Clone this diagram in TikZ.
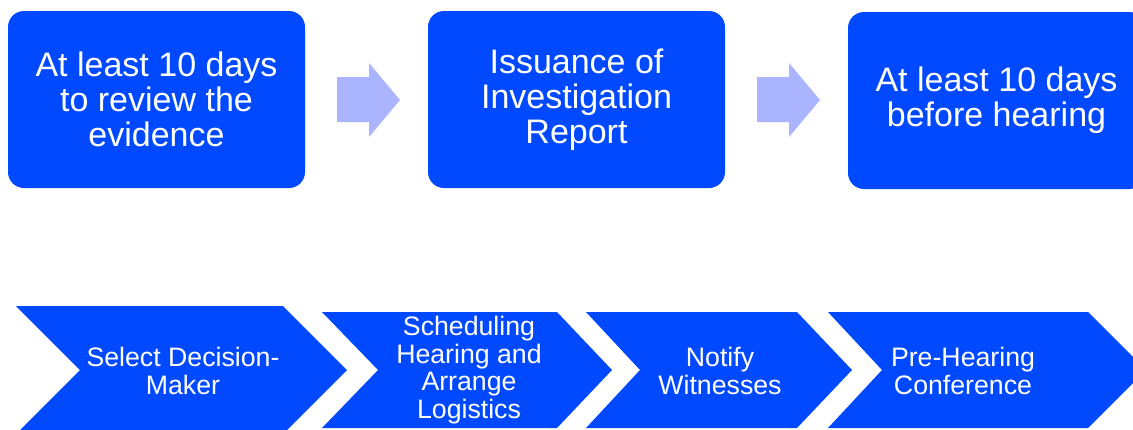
\documentclass[tikz,border=0pt]{standalone}
\usepackage{fontspec}
\setmainfont{Liberation Sans}
\definecolor{boxblue}{HTML}{0049FF}
\definecolor{arrowlav}{HTML}{AAB4FF}
\begin{document}
\begin{tikzpicture}[x=1pt,y=-1pt,
  topbox/.style={fill=boxblue, rounded corners=16pt, minimum width=297pt, minimum height=177pt, inner sep=0pt, text=white, align=center, font=\fontsize{34}{35}\selectfont},
  chevtext/.style={text=white, align=center, inner sep=0pt, font=\fontsize{26.7}{27.5}\selectfont},
  chev/.style={fill=boxblue},
  blockarrow/.style={fill=arrowlav}]
\useasboundingbox (0,0) rectangle (1133,429);
\clip (0,0) rectangle (1133,429);
% top boxes
\node[topbox] (b1) at (156.5,99.5) {At least 10 days\\to review the\\evidence};
\node[topbox] (b2) at (576.5,99.5) {Issuance of\\Investigation\\Report};
\node[topbox] (b3) at (996.5,100.5) {At least 10 days\\before hearing};
% block arrows
\fill[blockarrow] (337,77) -- (369,77) -- (369,63) -- (400,100) -- (369,137) -- (369,122) -- (337,122) -- cycle;
\fill[blockarrow] (757,77) -- (789,77) -- (789,63) -- (820,100) -- (789,137) -- (789,122) -- (757,122) -- cycle;
% chevrons
\fill[chev] (16,306) -- (283,306) -- (347,370) -- (283,434) -- (16,434) -- (80,370) -- cycle;
\fill[chev] (322,312) -- (557,312) -- (612,370) -- (557,428) -- (322,428) -- (378,370) -- cycle;
\fill[chev] (586,312) -- (797,312) -- (852,370) -- (797,428) -- (586,428) -- (640,370) -- cycle;
\fill[chev] (828,312) -- (1088,312) -- (1146,370) -- (1088,428) -- (828,428) -- (882,370) -- cycle;
% chevron texts
\node[chevtext] (t1) at (183,371) {Select Decision-\\Maker};
\node[chevtext] (t2) at (469,370) {Scheduling\\Hearing and\\Arrange\\Logistics};
\node[chevtext] (t3) at (720,371) {Notify\\Witnesses};
\node[chevtext] (t4) at (963,371) {Pre-Hearing\\Conference};
\end{tikzpicture}
\end{document}
